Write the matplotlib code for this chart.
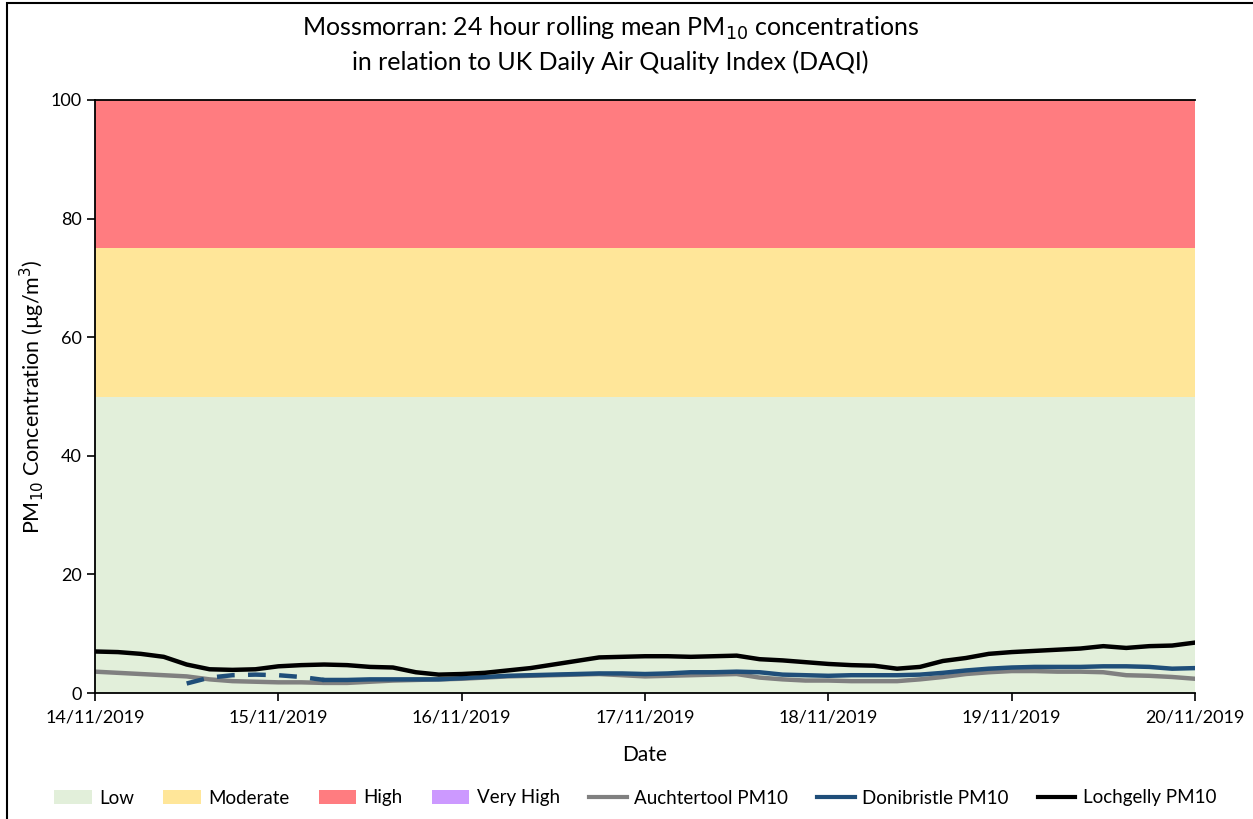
import numpy as np
import matplotlib
matplotlib.use("Agg")
import matplotlib.pyplot as plt
import matplotlib.dates as mdates
from matplotlib.patches import Patch, Rectangle
from matplotlib.lines import Line2D
import datetime as dt

plt.rcParams['font.family'] = ['Lato', 'DejaVu Sans']

# 3-hourly readings from 14/11/2019 00:00 to 20/11/2019 00:00
start = dt.datetime(2019, 11, 14)
times = [start + dt.timedelta(hours=3 * i) for i in range(49)]

lochgelly = [7.0, 6.9, 6.6, 6.1, 4.8, 4.0, 3.9, 4.0, 4.5, 4.7, 4.8, 4.7, 4.4, 4.3, 3.5, 3.1,
             3.2, 3.4, 3.8, 4.2, 4.8, 5.4, 6.0, 6.1, 6.2, 6.2, 6.1, 6.2, 6.3, 5.7, 5.5, 5.2,
             4.9, 4.7, 4.6, 4.1, 4.4, 5.4, 5.9, 6.6, 6.9, 7.1, 7.3, 7.5, 7.9, 7.6, 7.9, 8.0, 8.5]
donibristle = [np.nan, np.nan, np.nan, np.nan, 1.6, 2.6, 3.0, 3.1, 3.0, 2.7, 2.2, 2.2, 2.3, 2.3, 2.3, 2.3,
               2.5, 2.7, 2.9, 3.0, 3.1, 3.2, 3.3, 3.3, 3.2, 3.3, 3.5, 3.5, 3.6, 3.5, 3.1, 3.0,
               2.9, 3.0, 3.0, 3.0, 3.1, 3.4, 3.8, 4.1, 4.3, 4.4, 4.4, 4.4, 4.5, 4.5, 4.4, 4.1, 4.2]
auchtertool = [3.6, 3.4, 3.2, 3.0, 2.8, 2.3, 2.0, 1.9, 1.8, 1.8, 1.7, 1.7, 1.9, 2.1, 2.2, 2.3,
               2.4, 2.6, 2.8, 2.9, 3.0, 3.1, 3.2, 3.0, 2.8, 2.9, 3.0, 3.1, 3.2, 2.6, 2.3, 2.1,
               2.1, 2.0, 2.0, 2.0, 2.3, 2.7, 3.2, 3.5, 3.7, 3.7, 3.6, 3.6, 3.5, 3.0, 2.9, 2.7, 2.4]
doni_dashed_end = 10  # Donibristle line is dashed up to this reading

band_names = ['Low', 'Moderate', 'High', 'Very High']
band_lower = [0, 50, 75, 100]
band_upper = [50, 75, 100, 100]
band_colors = ['#E2EFDA', '#FFE699', '#FF7C80', '#CC99FF']

fig = plt.figure(figsize=(12.53, 8.19), dpi=100)
ax = fig.add_axes([95 / 1253, 1 - 693 / 819, 1100 / 1253, 593 / 819])

for lo, hi, c in zip(band_lower, band_upper, band_colors):
    if hi > lo:
        ax.fill_between([times[0], times[-1]], lo, hi, color=c, linewidth=0, zorder=1)

ax.plot(times, auchtertool, color='#808080', lw=3.2, zorder=3)
ax.plot(times[:doni_dashed_end + 1], donibristle[:doni_dashed_end + 1], color='#1F4E79', lw=3.2,
        ls=(0, (4, 3)), zorder=4)
ax.plot(times[doni_dashed_end:], donibristle[doni_dashed_end:], color='#1F4E79', lw=3.2, zorder=4)
ax.plot(times, lochgelly, color='black', lw=3.2, zorder=5)

ax.set_xlim(times[0], times[-1])
ax.set_ylim(0, 100)
ax.set_yticks(range(0, 101, 20))
ax.xaxis.set_major_locator(mdates.DayLocator())
ax.xaxis.set_major_formatter(mdates.DateFormatter('%d/%m/%Y'))
ax.tick_params(axis='both', labelsize=13, direction='out', length=6, width=1.2, colors='black')
ax.tick_params(axis='x', pad=6)
ax.spines['right'].set_visible(False)
for s in ['left', 'bottom', 'top']:
    ax.spines[s].set_linewidth(1.3)
    ax.spines[s].set_zorder(6)

ax.set_xlabel('Date', fontsize=15, labelpad=14)
ax.set_ylabel('PM$_{10}$ Concentration (µg/m$^{3}$)', fontsize=15.5, labelpad=3)
fig.text(0.487, 1 - 28 / 819, 'Mossmorran: 24 hour rolling mean PM$_{10}$ concentrations',
         ha='center', va='center', fontsize=18)
fig.text(0.487, 1 - 62 / 819, 'in relation to UK Daily Air Quality Index (DAQI)',
         ha='center', va='center', fontsize=18)

handles = [Patch(facecolor=c, edgecolor='none') for c in band_colors]
handles += [Line2D([0], [0], color='#808080', lw=3),
            Line2D([0], [0], color='#1F4E79', lw=3),
            Line2D([0], [0], color='black', lw=3)]
labels = band_names + ['Auchtertool PM10', 'Donibristle PM10', 'Lochgelly PM10']
fig.legend(handles, labels, loc='center', bbox_to_anchor=(0.507, 1 - 798 / 819), ncol=7,
           frameon=False, fontsize=13.5, handlelength=2.0, handletextpad=0.4, columnspacing=1.55)

fig.add_artist(Rectangle((7 / 1253, -0.05), 1.1, 1.05 - 3 / 819, transform=fig.transFigure,
                         fill=False, edgecolor='black', lw=1.5))

fig.savefig('out.png', dpi=100)
